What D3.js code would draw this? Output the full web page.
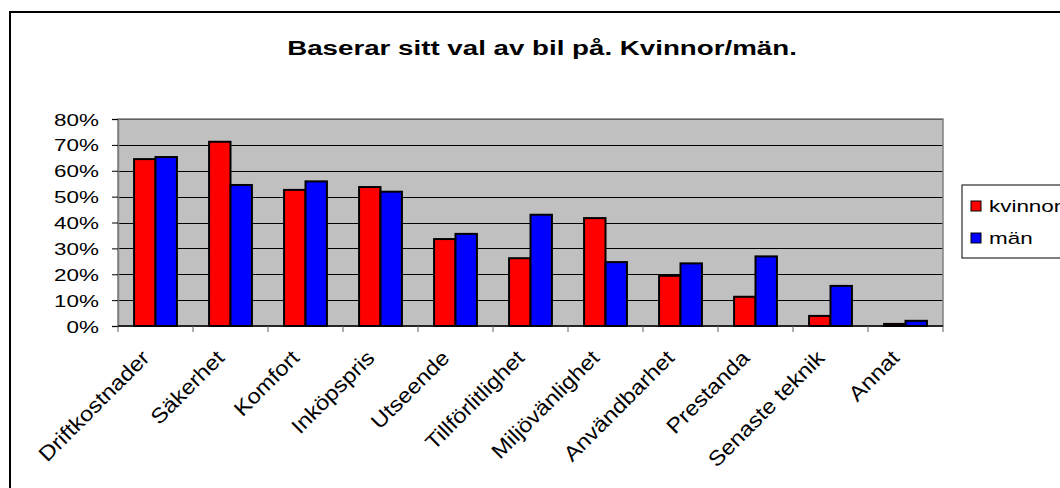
<!DOCTYPE html>
<html>
<head>
<meta charset="utf-8">
<script src="https://cdn.jsdelivr.net/npm/d3@7"></script>
<style>
  body { margin: 0; background: #fff; }
  text { font-family: Arial, "Liberation Sans", sans-serif; fill: #000; }
</style>
</head>
<body>
<svg id="chart" width="1060" height="488"></svg>
<script>
// data
const categories = ["Driftkostnader", "Säkerhet", "Komfort", "Inköpspris", "Utseende",
                    "Tillförlitlighet", "Miljövänlighet", "Användbarhet", "Prestanda",
                    "Senaste teknik", "Annat"];
const seriesNames = ["kvinnor", "män"];
const kvinnor = [0.645, 0.712, 0.526, 0.537, 0.336, 0.262, 0.417, 0.194, 0.113, 0.039, 0.008];
const man     = [0.653, 0.545, 0.559, 0.519, 0.356, 0.430, 0.247, 0.242, 0.269, 0.155, 0.020];
const yTicks  = [0, 0.1, 0.2, 0.3, 0.4, 0.5, 0.6, 0.7, 0.8];

const colors = {"kvinnor": "#ff0000", "män": "#0000ff"};
const sx = 1.32;   // glyphs in the picture are wider than normal Arial

const svg    = d3.select("#chart"),
      plot   = {left: 118, right: 943, top: 119, bottom: 326},
      x      = d3.scaleBand().domain(categories).range([plot.left, plot.right]),
      x1     = d3.scaleBand().domain(seriesNames).range([0, x.bandwidth()]).paddingOuter(0.75),
      y      = d3.scaleLinear().domain([0, 0.8]).range([plot.bottom, plot.top]);

const rows = categories.map((c, i) => ({cat: c, kvinnor: kvinnor[i], "män": man[i]}));

// outer frame (runs off the right and bottom of the picture)
svg.append("rect")
    .attr("x", 10).attr("y", 12)
    .attr("width", 1100).attr("height", 520)
    .attr("fill", "#fff")
    .attr("stroke", "#000")
    .attr("stroke-width", 2);

// title
svg.append("text")
    .attr("transform", `translate(542,55) scale(${sx},1)`)
    .attr("text-anchor", "middle")
    .style("font-size", "21px")
    .style("font-weight", "bold")
    .text("Baserar sitt val av bil på. Kvinnor/män.");

// plot background
svg.append("rect")
    .attr("x", plot.left).attr("y", plot.top)
    .attr("width", plot.right - plot.left)
    .attr("height", plot.bottom - plot.top)
    .attr("fill", "#c0c0c0");

// gridlines
svg.append("g")
  .selectAll("line")
  .data(yTicks.slice(1))
  .enter().append("line")
    .attr("x1", plot.left).attr("x2", plot.right)
    .attr("y1", d => Math.round(y(d)) + 0.5)
    .attr("y2", d => Math.round(y(d)) + 0.5)
    .attr("stroke", "#000")
    .attr("stroke-width", 1);

// plot border
svg.append("rect")
    .attr("x", plot.left).attr("y", plot.top)
    .attr("width", plot.right - plot.left)
    .attr("height", plot.bottom - plot.top)
    .attr("fill", "none")
    .attr("stroke", "#808080")
    .attr("stroke-width", 1.5);

// bars
const groups = svg.append("g")
  .selectAll("g")
  .data(rows)
  .enter().append("g")
    .attr("transform", d => `translate(${x(d.cat)},0)`);

groups.selectAll("rect")
  .data(d => seriesNames.map(k => ({key: k, value: d[k]})))
  .enter().append("rect")
    .attr("x", d => x1(d.key))
    .attr("y", d => y(d.value))
    .attr("width", x1.bandwidth())
    .attr("height", d => plot.bottom - y(d.value))
    .attr("fill", d => colors[d.key])
    .attr("stroke", "#000")
    .attr("stroke-width", 2);

// y axis
const yAxis = svg.append("g")
    .attr("transform", `translate(${plot.left},0)`)
    .call(d3.axisLeft(y).tickValues(yTicks).tickFormat(d3.format(".0%")).tickSize(6).tickPadding(12));
yAxis.select(".domain").attr("stroke", "#808080").attr("stroke-width", 1.5);
yAxis.selectAll(".tick line").attr("stroke", "#000");
yAxis.selectAll(".tick text")
    .attr("x", null).attr("dy", null)
    .attr("text-anchor", "end")
    .attr("transform", `translate(-19,6) scale(${sx},1)`)
    .style("font-size", "17px")
    .style("font-family", "Arial, 'Liberation Sans', sans-serif");

// x axis: ticks between categories
const bounds = categories.map(c => x(c)).concat([plot.right]);
svg.append("line")
    .attr("x1", plot.left).attr("x2", plot.right)
    .attr("y1", plot.bottom).attr("y2", plot.bottom)
    .attr("stroke", "#000").attr("stroke-width", 1.5);
svg.append("g")
  .selectAll("line")
  .data(bounds)
  .enter().append("line")
    .attr("x1", d => d).attr("x2", d => d)
    .attr("y1", plot.bottom).attr("y2", plot.bottom + 6)
    .attr("stroke", "#606060");

// category labels, rotated
svg.append("g")
  .selectAll("text")
  .data(categories)
  .enter().append("text")
    .attr("transform", d => `translate(${x(d) + x.bandwidth() / 2 - 10},354) rotate(-45) scale(1.12,1)`)
    .attr("text-anchor", "end")
    .attr("dy", "0.35em")
    .style("font-size", "21px")
    .text(d => d);

// legend
svg.append("rect")
    .attr("x", 962).attr("y", 185)
    .attr("width", 120).attr("height", 73)
    .attr("fill", "#fff")
    .attr("stroke", "#000")
    .attr("stroke-width", 1);

const legend = svg.append("g")
  .selectAll("g")
  .data(seriesNames)
  .enter().append("g")
    .attr("transform", (d, i) => `translate(971,${201 + i * 32})`);

legend.append("rect")
    .attr("width", 10).attr("height", 10)
    .attr("fill", d => colors[d])
    .attr("stroke", "#000")
    .attr("stroke-width", 1);

legend.append("text")
    .attr("transform", `translate(18,11) scale(${sx},1)`)
    .style("font-size", "17px")
    .text(d => d);
</script>
</body>
</html>
